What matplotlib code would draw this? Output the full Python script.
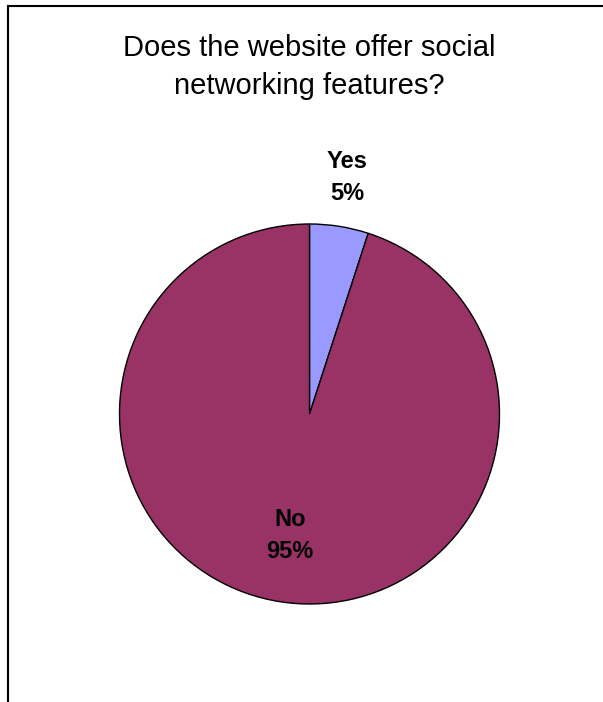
import matplotlib
matplotlib.use("Agg")
import matplotlib.pyplot as plt
from matplotlib.lines import Line2D
import numpy as np

categories = ["Yes", "No"]
shares = [5, 95]
colors = ["#9999FF", "#993366"]
title = "Does the website offer social\nnetworking features?"

W, H = 603, 702
fig = plt.figure(figsize=(W / 100, H / 100), dpi=100)
fig.patch.set_facecolor("white")

# chart frame (top and left edges)
fig.add_artist(Line2D([8 / W, 8 / W], [0, 1 - 6 / H], color="black", lw=1.5,
                      transform=fig.transFigure))
fig.add_artist(Line2D([8 / W, 1], [1 - 6 / H, 1 - 6 / H], color="black", lw=1.5,
                      transform=fig.transFigure))

fig.text(309.5 / W, 1 - 67 / H, title, ha="center", va="center",
         fontsize=21, family="Liberation Sans", linespacing=1.45)

cx, cy, r = 309.5, 414, 190
ax = fig.add_axes([(cx - r) / W, (H - cy - r) / H, 2 * r / W, 2 * r / H])
wedges, _ = ax.pie(shares, colors=colors, startangle=90, counterclock=False,
                   wedgeprops=dict(edgecolor="black", linewidth=1))
ax.set_xlim(-1, 1)
ax.set_ylim(-1, 1)
ax.set_aspect("auto")
ax.axis("off")

label_dist = [1.26, 0.65]
for w, cat, val, d in zip(wedges, categories, shares, label_dist):
    mid = np.deg2rad((w.theta1 + w.theta2) / 2)
    ax.text(d * np.cos(mid), d * np.sin(mid), f"{cat}\n{val}%", ha="center",
            va="center", fontsize=17, fontweight="bold",
            family="Liberation Sans", linespacing=1.5)

fig.savefig("out.png", dpi=100)
